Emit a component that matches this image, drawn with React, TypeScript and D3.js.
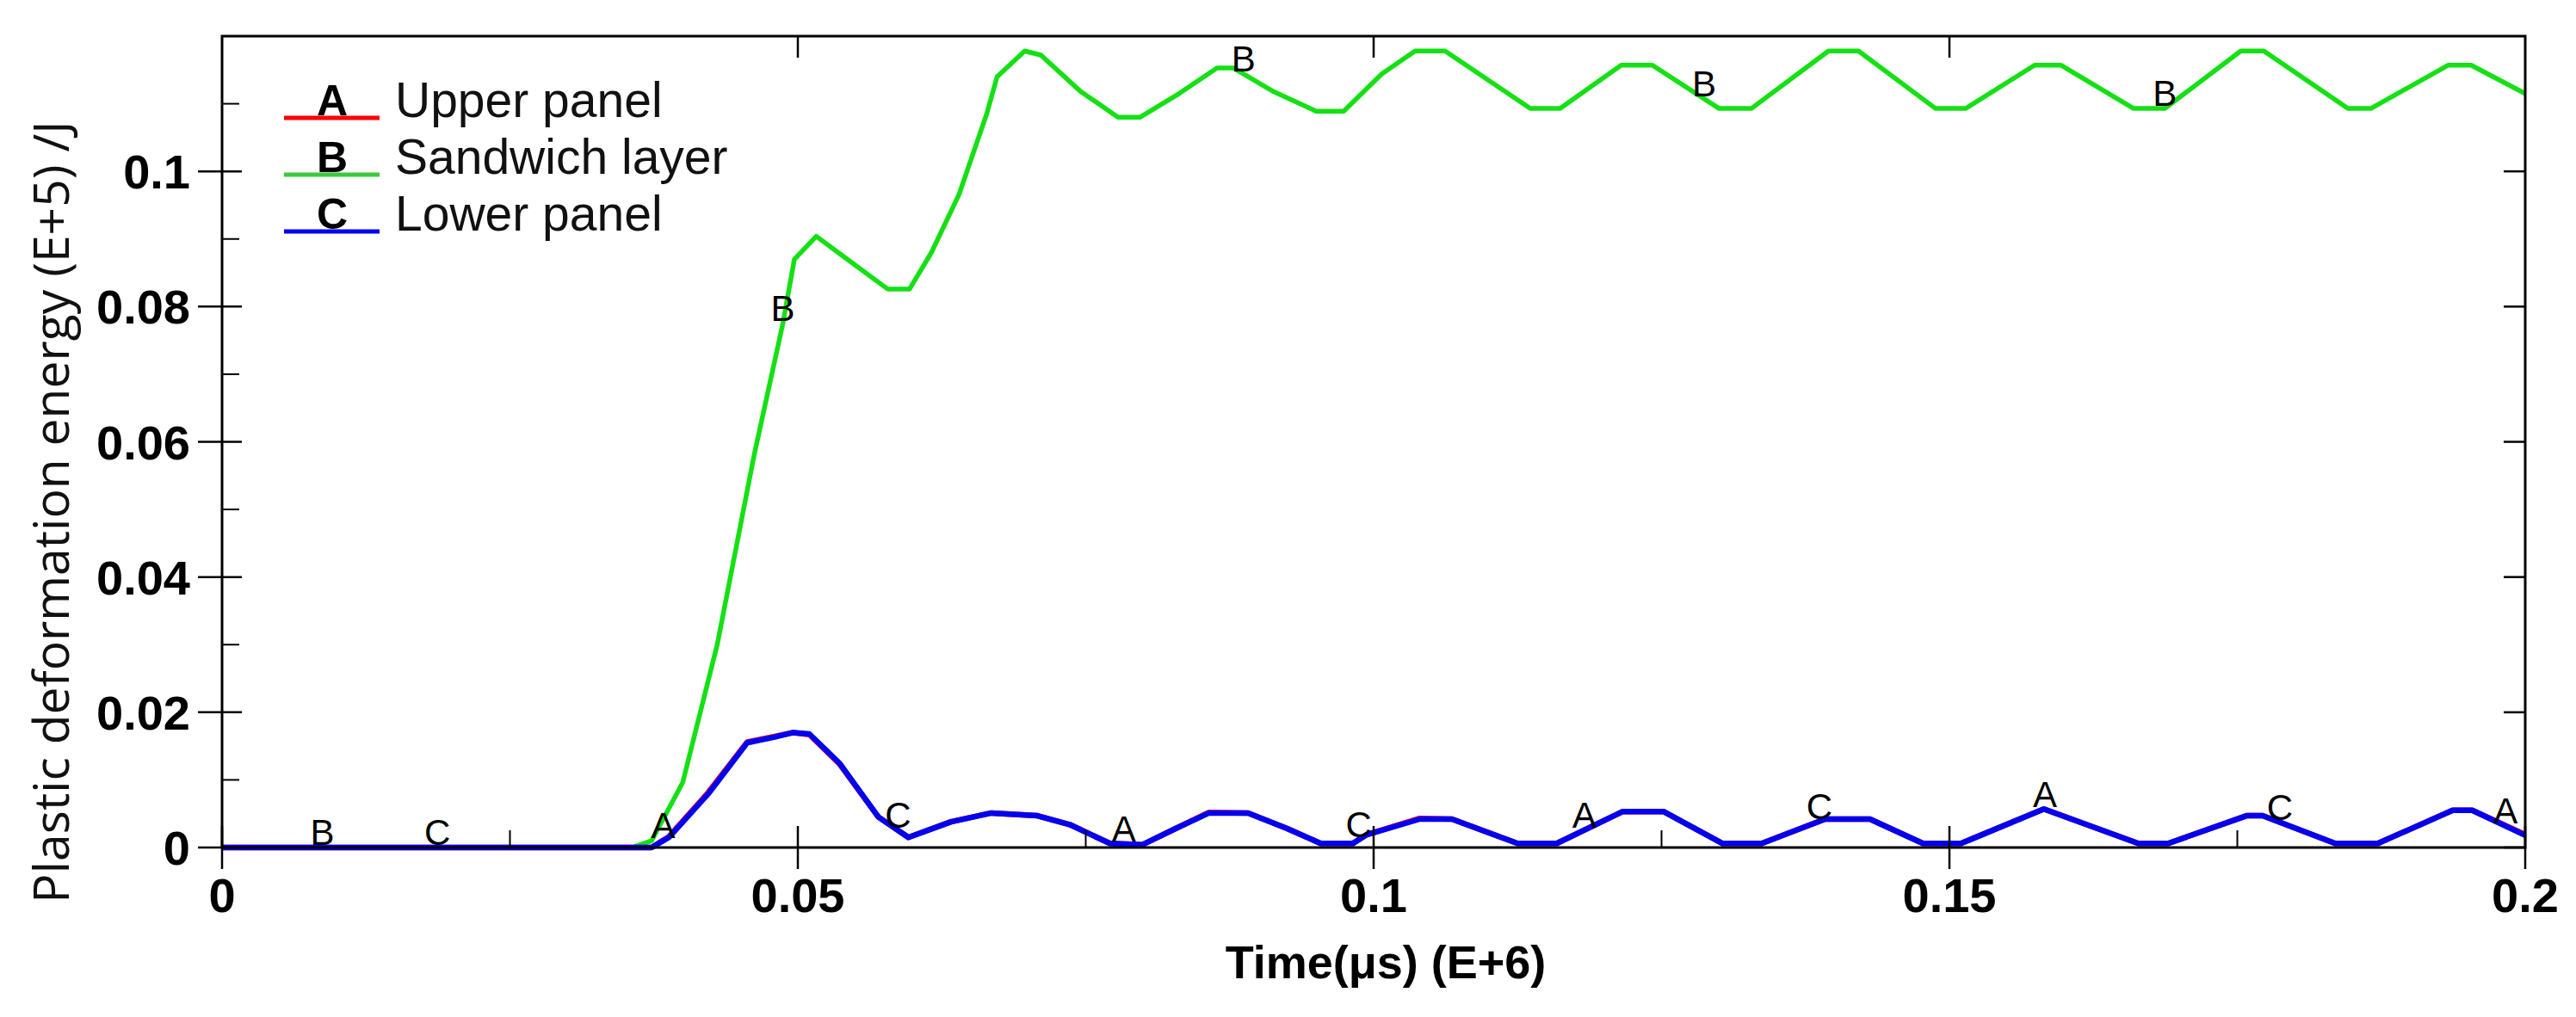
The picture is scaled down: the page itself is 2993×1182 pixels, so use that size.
import React from "react";
import * as d3 from "d3";

// ---- data (values in E+5 J, time in E+6 µs) ----
const bTime = [0, 0.0356, 0.0373, 0.040, 0.043, 0.0462, 0.0487, 0.0497, 0.0516, 0.0535, 0.0578, 0.0597, 0.0616, 0.064, 0.0664, 0.0673, 0.0697, 0.0711, 0.0745, 0.0778, 0.0797, 0.0831, 0.0864, 0.0878, 0.0912, 0.095, 0.0974, 0.1007, 0.1036, 0.1062, 0.1136, 0.1162, 0.1215, 0.1242, 0.130, 0.1328, 0.1395, 0.1421, 0.1488, 0.1514, 0.1574, 0.1597, 0.166, 0.1687, 0.1753, 0.1773, 0.1846, 0.1866, 0.1933, 0.1953, 0.2];
const bValue = [0, 0, 0.001, 0.0096, 0.030, 0.058, 0.0775, 0.087, 0.0904, 0.088, 0.0826, 0.0826, 0.088, 0.0966, 0.1085, 0.114, 0.1178, 0.1172, 0.1119, 0.108, 0.108, 0.1115, 0.1153, 0.1153, 0.1119, 0.1089, 0.1089, 0.1144, 0.1178, 0.1178, 0.1093, 0.1093, 0.1157, 0.1157, 0.1093, 0.1093, 0.1178, 0.1178, 0.1093, 0.1093, 0.1157, 0.1157, 0.1093, 0.1093, 0.1178, 0.1178, 0.1093, 0.1093, 0.1157, 0.1157, 0.1115];

const acTime = [0, 0.0373, 0.0388, 0.0422, 0.0456, 0.0479, 0.0496, 0.051, 0.0536, 0.057, 0.0596, 0.0633, 0.0668, 0.0708, 0.0736, 0.0771, 0.0799, 0.0828, 0.0857, 0.0891, 0.0925, 0.0954, 0.0982, 0.0994, 0.104, 0.1068, 0.1125, 0.1159, 0.1216, 0.1252, 0.1303, 0.1337, 0.1392, 0.1431, 0.1477, 0.151, 0.1582, 0.1664, 0.169, 0.1758, 0.1772, 0.1835, 0.1872, 0.1937, 0.1954, 0.2];
const aValue = [0, 0, 0.0016, 0.0081, 0.0156, 0.0164, 0.0170, 0.0167, 0.0124, 0.0045, 0.0015, 0.0038, 0.0051, 0.0047, 0.0034, 0.0006, 0.0004, 0.0028, 0.0052, 0.0051, 0.0028, 0.0006, 0.0006, 0.0019, 0.0043, 0.0042, 0.0006, 0.0006, 0.0053, 0.0053, 0.0006, 0.0006, 0.0042, 0.0042, 0.0006, 0.0006, 0.0057, 0.0006, 0.0006, 0.0047, 0.0047, 0.0006, 0.0006, 0.0055, 0.0055, 0.0019];
const cValue = [0, 0, 0.0015, 0.0079, 0.0155, 0.0163, 0.0170, 0.0168, 0.0125, 0.0045, 0.0015, 0.0038, 0.0051, 0.0047, 0.0034, 0.0006, 0.0004, 0.0028, 0.0051, 0.0051, 0.0028, 0.0006, 0.0006, 0.0019, 0.0042, 0.0042, 0.0006, 0.0006, 0.0053, 0.0053, 0.0006, 0.0006, 0.0042, 0.0042, 0.0006, 0.0006, 0.0057, 0.0006, 0.0006, 0.0047, 0.0047, 0.0006, 0.0006, 0.0055, 0.0055, 0.0018];

const aLabelTimes = [0.0383, 0.0783, 0.1183, 0.1583, 0.1983];
const bLabelTimes = [0.0087, 0.0487, 0.0887, 0.1287, 0.1687];
const cLabelTimes = [0.0187, 0.0587, 0.0987, 0.1387, 0.1787];

const seriesNames = ["Upper panel", "Sandwich layer", "Lower panel"];
const seriesLetters = ["A", "B", "C"];
const seriesColors = ["#ff0000", "#14e014", "#0000f0"];
const legendColors = ["#ff0000", "#3cc83c", "#0000f0"];

const xMajorTicks = [0, 0.05, 0.1, 0.15, 0.2];
const xMinorTicks = [0.025, 0.075, 0.125, 0.175];
const xTopTicks = [0.05, 0.1, 0.15];
const yMajorTicks = [0, 0.02, 0.04, 0.06, 0.08, 0.1];
const yMinorTicks = [0.01, 0.03, 0.05, 0.07, 0.09, 0.11];

const xTitle = "Time(μs) (E+6)";
const yTitle = "Plastic deformation energy (E+5) /J";

const W = 2993;
const H = 1182;
const M = { left: 258, right: 2934, top: 42, bottom: 985 };

export default function App() {
  const x = d3.scaleLinear().domain([0, 0.2]).range([M.left, M.right]);
  const y = d3.scaleLinear().domain([0, 0.12]).range([M.bottom, M.top]);

  const mk = (ts: number[], vs: number[]) => ts.map((t, i) => [t, vs[i]] as [number, number]);
  const seriesData = [mk(acTime, aValue), mk(bTime, bValue), mk(acTime, cValue)];
  const labelTimes = [aLabelTimes, bLabelTimes, cLabelTimes];

  const line = d3
    .line<[number, number]>()
    .x((d) => x(d[0]))
    .y((d) => y(d[1]))
    .curve(d3.curveLinear);

  const interp = (data: [number, number][], t: number) => {
    const i = d3.bisector((d: [number, number]) => d[0]).right(data, t);
    if (i <= 0) return data[0][1];
    if (i >= data.length) return data[data.length - 1][1];
    const a = data[i - 1];
    const b = data[i];
    return a[1] + ((b[1] - a[1]) * (t - a[0])) / (b[0] - a[0]);
  };

  const fmt = (v: number) => String(+v.toFixed(3));
  const drawOrder = [1, 0, 2];
  const tickFont = "'Liberation Sans', Arial, sans-serif";

  return (
    <div>
      <style>{`body{margin:0;background:#fff}`}</style>
      <svg width={W} height={H} viewBox={`0 0 ${W} ${H}`} style={{ display: "block" }}>
        <rect x={0} y={0} width={W} height={H} fill="#fff" />

        {/* series lines */}
        {drawOrder.map((si) => (
          <path
            key={"s" + si}
            d={line(seriesData[si]) || ""}
            fill="none"
            stroke={seriesColors[si]}
            strokeWidth={si === 1 ? 5.5 : 6.5}
            strokeLinejoin="round"
            strokeLinecap="butt"
          />
        ))}

        {/* frame */}
        <rect
          x={M.left}
          y={M.top}
          width={M.right - M.left}
          height={M.bottom - M.top}
          fill="none"
          stroke="#000"
          strokeWidth={3}
        />

        {/* bottom ticks */}
        {xMajorTicks.map((t) => (
          <line key={"xM" + t} x1={x(t)} x2={x(t)} y1={M.bottom - 25} y2={M.bottom + 25} stroke="#000" strokeWidth={2.5} />
        ))}
        {xMinorTicks.map((t) => (
          <line key={"xm" + t} x1={x(t)} x2={x(t)} y1={M.bottom - 20} y2={M.bottom} stroke="#000" strokeWidth={2} />
        ))}
        {xTopTicks.map((t) => (
          <line key={"xt" + t} x1={x(t)} x2={x(t)} y1={M.top} y2={M.top + 25} stroke="#000" strokeWidth={2.5} />
        ))}
        {xMajorTicks.map((t) => (
          <text
            key={"xl" + t}
            x={x(t)}
            y={M.bottom + 75}
            textAnchor="middle"
            fontFamily={tickFont}
            fontWeight="bold"
            fontSize={56}
            fill="#000"
          >
            {fmt(t)}
          </text>
        ))}

        {/* left / right ticks */}
        {yMajorTicks.map((v) => (
          <line key={"yM" + v} x1={M.left - 28} x2={M.left + 23} y1={y(v)} y2={y(v)} stroke="#000" strokeWidth={2.5} />
        ))}
        {yMinorTicks.map((v) => (
          <line key={"ym" + v} x1={M.left} x2={M.left + 20} y1={y(v)} y2={y(v)} stroke="#000" strokeWidth={2} />
        ))}
        {yMajorTicks.map((v) => (
          <line key={"yr" + v} x1={M.right - 25} x2={M.right} y1={y(v)} y2={y(v)} stroke="#000" strokeWidth={2.5} />
        ))}
        {yMajorTicks.map((v) => (
          <text
            key={"yl" + v}
            x={M.left - 37}
            y={y(v)}
            dy="0.36em"
            textAnchor="end"
            fontFamily={tickFont}
            fontWeight="bold"
            fontSize={56}
            fill="#000"
          >
            {fmt(v)}
          </text>
        ))}

        {/* axis titles */}
        <text
          x={1610}
          y={1137}
          textAnchor="middle"
          fontFamily={tickFont}
          fontWeight="bold"
          fontSize={54}
          fill="#000"
        >
          {xTitle}
        </text>
        <text
          transform={`translate(80,595) rotate(-90)`}
          textAnchor="middle"
          fontFamily="'Open Sans', 'DejaVu Sans', sans-serif"
          fontSize={57}
          fill="#111"
        >
          {yTitle}
        </text>

        {/* curve letter labels */}
        {[1, 0, 2].map((si) =>
          labelTimes[si].map((t) => (
            <text
              key={"lab" + si + "-" + t}
              x={x(t)}
              y={y(interp(seriesData[si], t)) - 3}
              textAnchor="middle"
              fontFamily={tickFont}
              fontSize={42}
              fill="#000"
            >
              {seriesLetters[si]}
            </text>
          ))
        )}

        {/* legend */}
        {seriesNames.map((name, i) => {
          const ly = 137 + i * 66;
          return (
            <g key={"lg" + i}>
              <line x1={330} x2={441} y1={ly} y2={ly} stroke={legendColors[i]} strokeWidth={5} />
              <text
                x={386}
                y={ly - 3}
                textAnchor="middle"
                fontFamily={tickFont}
                fontWeight="bold"
                fontSize={50}
                fill="#000"
              >
                {seriesLetters[i]}
              </text>
              <text
                x={459}
                y={ly - 1}
                fontFamily={tickFont}
                fontSize={57}
                fill="#111"
              >
                {name}
              </text>
            </g>
          );
        })}
      </svg>
    </div>
  );
}
